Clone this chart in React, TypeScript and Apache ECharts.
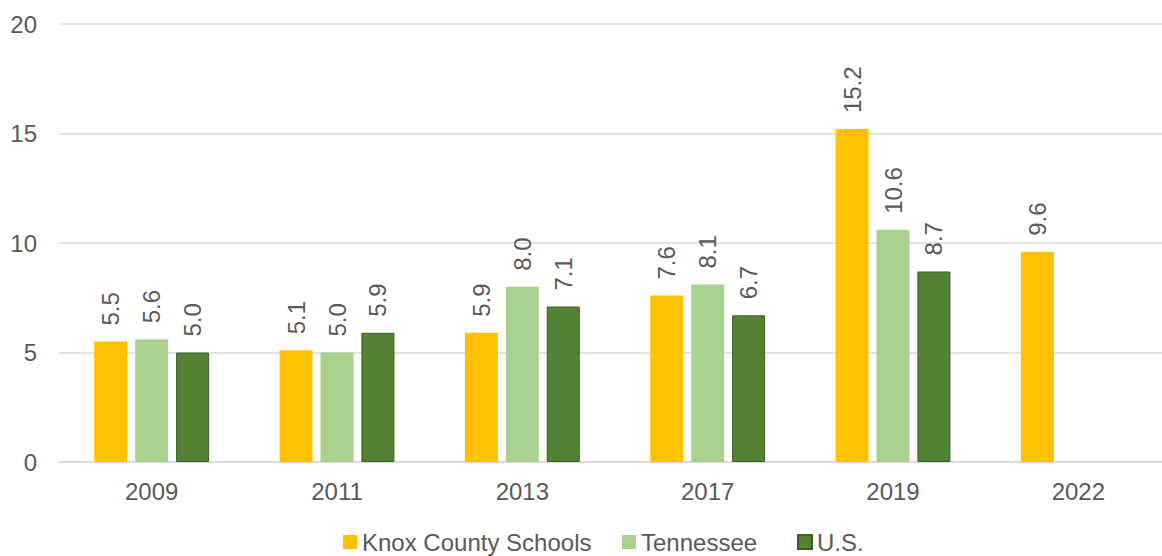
import React, { useEffect, useRef } from "react";
import * as echarts from "echarts";

const categories = ["2009", "2011", "2013", "2017", "2019", "2022"];
const knoxValues = [5.5, 5.1, 5.9, 7.6, 15.2, 9.6];
const tennesseeValues = [5.6, 5.0, 8.0, 8.1, 10.6, null];
const usValues = [5.0, 5.9, 7.1, 6.7, 8.7, null];
const seriesNames = ["Knox County Schools", "Tennessee", "U.S."];

const FONT = "'Liberation Sans', Arial, sans-serif";
const TEXT = "#595959";
const FS = 24;
const legendLefts = [338, 617, 792];

export default function App() {
  const ref = useRef<HTMLDivElement>(null);
  useEffect(() => {
    const chart = echarts.init(ref.current!, null, { renderer: "svg" });
    const label = {
      show: true,
      position: "top",
      rotate: 90,
      align: "left",
      verticalAlign: "middle",
      distance: 16,
      color: TEXT,
      fontSize: FS,
      fontFamily: FONT,
      formatter: (p: any) => (p.value == null ? "" : Number(p.value).toFixed(1)),
    };
    const mk = (name: string, data: (number | null)[], color: string, border?: string) => ({
      name,
      type: "bar",
      data,
      barWidth: 33,
      barGap: "24%",
      itemStyle: border
        ? { color, borderColor: border, borderWidth: 1 }
        : { color },
      label,
    });
    chart.setOption({
      animation: false,
      textStyle: { fontFamily: FONT },
      grid: { left: 59, right: 0, top: 24, bottom: 94, containLabel: false },
      legend: seriesNames.map((n, i) => ({
        left: legendLefts[i],
        top: 525,
        itemWidth: 14,
        itemHeight: 14,
        icon: "rect",
        textStyle: { color: TEXT, fontSize: FS, fontFamily: FONT },
        data: [n],
      })),
      xAxis: {
        type: "category",
        data: categories,
        axisLine: { lineStyle: { color: "#d9d9d9", width: 1.5 } },
        axisTick: { show: false },
        axisLabel: { color: TEXT, fontSize: FS, fontFamily: FONT, margin: 17 },
      },
      yAxis: {
        type: "value",
        min: 0,
        max: 20,
        interval: 5,
        axisLine: { show: false },
        axisTick: { show: false },
        splitLine: { lineStyle: { color: "#d9d9d9", width: 1.5 } },
        axisLabel: { color: TEXT, fontSize: FS, fontFamily: FONT, margin: 22 },
      },
      series: [
        mk(seriesNames[0], knoxValues, "#FFC000"),
        mk(seriesNames[1], tennesseeValues, "#A9D18E"),
        mk(seriesNames[2], usValues, "#548235", "#3B5E24"),
      ],
    });
    return () => chart.dispose();
  }, []);
  return (
    <div
      ref={ref}
      style={{ position: "fixed", left: 0, top: 0, width: 1171, height: 556, background: "#fff" }}
    />
  );
}
